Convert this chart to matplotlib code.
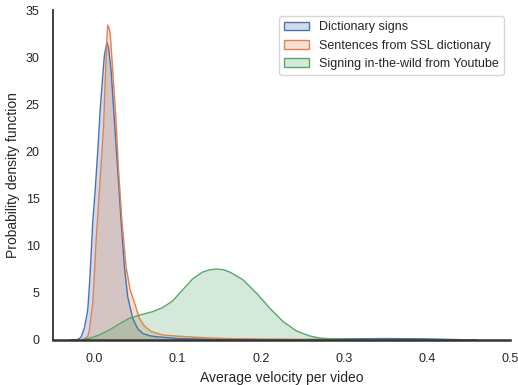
import matplotlib
matplotlib.use('Agg')
import matplotlib.pyplot as plt
from matplotlib.patches import Patch
import seaborn as sns

# density curves (x = avg velocity, y = pdf)
dict_x = [-0.03, -0.02, -0.016, -0.012, -0.008, -0.006, -0.004, -0.002, 0.001, 0.004,
          0.007, 0.010, 0.012, 0.015, 0.017, 0.020, 0.024, 0.028, 0.032, 0.036, 0.040,
          0.046, 0.052, 0.058, 0.066, 0.074, 0.1, 0.15, 0.25, 0.3, 0.35, 0.4, 0.44, 0.46]
dict_y = [0.0, 0.05, 0.3, 1.3, 3.2, 5.8, 9.0, 12.5, 16.0, 20.0,
          24.5, 28.0, 30.2, 31.6, 31.0, 28.6, 23.3, 18.0, 12.7, 7.8, 4.6,
          2.3, 1.2, 0.7, 0.45, 0.35, 0.15, 0.06, 0.05, 0.12, 0.15, 0.12, 0.03, 0.0]

sent_x = [-0.015, -0.008, -0.006, -0.002, 0.0, 0.002, 0.005, 0.008, 0.011, 0.013,
          0.015, 0.016, 0.0175, 0.019, 0.022, 0.026, 0.029, 0.033, 0.038, 0.043,
          0.048, 0.054, 0.06, 0.068, 0.082, 0.1, 0.13, 0.16, 0.2, 0.25, 0.3]
sent_y = [0.0, 0.35, 1.06, 3.9, 7.0, 10.5, 14.5, 18.5, 22.5, 27.5,
          32.0, 33.4, 33.1, 32.5, 28.6, 23.3, 18.0, 12.7, 7.8, 5.3,
          4.0, 2.3, 1.5, 0.9, 0.53, 0.4, 0.25, 0.15, 0.08, 0.04, 0.0]

wild_x = [-0.015, -0.005, 0.005, 0.018, 0.028, 0.042, 0.058, 0.070, 0.082, 0.094,
          0.106, 0.118, 0.130, 0.139, 0.147, 0.155, 0.163, 0.179, 0.195, 0.211, 0.227,
          0.243, 0.259, 0.271, 0.29, 0.35, 0.45]
wild_y = [0.0, 0.2, 0.5, 1.06, 1.6, 2.3, 2.72, 3.0, 3.43, 4.13,
          5.3, 6.47, 7.2, 7.45, 7.53, 7.45, 7.2, 6.36, 4.95, 3.36, 1.94,
          0.95, 0.42, 0.2, 0.08, 0.04, 0.0]

labels = ['Dictionary signs', 'Sentences from SSL dictionary', 'Signing in-the-wild from Youtube']
series = [(dict_x, dict_y), (sent_x, sent_y), (wild_x, wild_y)]

sns.set_theme(style='white')
plt.rcParams['font.family'] = ['Liberation Sans', 'DejaVu Sans']
colors = sns.color_palette('deep')

fig = plt.figure(figsize=(5.18, 3.85), dpi=100)
ax = fig.add_axes([0.102, 0.117, 0.883, 0.857])

for (x, y), c in zip(series, colors):
    ax.fill_between(x, y, 0, color=c, alpha=0.25, linewidth=0)
    ax.plot(x, y, color=c, linewidth=1.0)

# legend patches like seaborn's shaded kde
handles = [Patch(facecolor=(*c, 0.25), edgecolor=c, linewidth=1.0) for c in colors[:3]]
ax.legend(handles, labels, loc='upper right', fontsize=9, frameon=True)

ax.set_xlim(-0.05, 0.5)
ax.set_ylim(0, 35)
ax.set_xticks([0.0, 0.1, 0.2, 0.3, 0.4, 0.5])
ax.set_yticks([0, 5, 10, 15, 20, 25, 30, 35])
ax.tick_params(labelsize=9)
ax.set_xlabel('Average velocity per video', fontsize=10)
ax.set_ylabel('Probability density function', fontsize=10)
sns.despine(ax=ax)
ax.spines['left'].set_color('#333333')
ax.spines['bottom'].set_color('#333333')
ax.spines['left'].set_linewidth(1.3)
ax.spines['bottom'].set_linewidth(1.8)

fig.savefig('out.png', dpi=100)
